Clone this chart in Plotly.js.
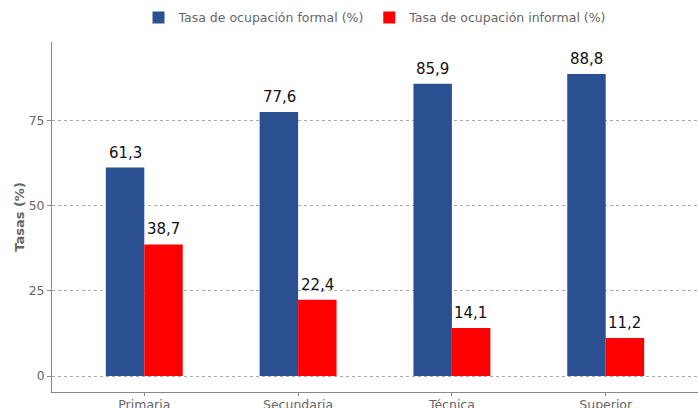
<!DOCTYPE html>
<html><head><meta charset="utf-8">
<script src="https://cdn.plot.ly/plotly-3.0.1.min.js"></script>
<style>html,body{margin:0;padding:0;background:#fff}#c{width:698px;height:408px}</style>
</head><body><div id="c"></div>
<script>
const categories = ["Primaria", "Secundaria", "Técnica", "Superior"];
const formal = [61.3, 77.6, 85.9, 88.8];
const informal = [38.7, 22.4, 14.1, 11.2];
const seriesNames = ["Tasa de ocupación formal (%)", "Tasa de ocupación informal (%)"];
const yTicks = [0, 25, 50, 75];

const font = "DejaVu Sans";
const traces = [
  {type:'bar', x:categories, y:formal, name:seriesNames[0], marker:{color:'#2a5092'}, offsetgroup:'a'},
  {type:'bar', x:categories, y:informal, name:seriesNames[1], marker:{color:'#ff0000'}, offsetgroup:'b'}
];
const fmt = v => v.toFixed(1).replace('.', ',');
const annotations = [];
categories.forEach((c, i) => {
  annotations.push({x:c, y:formal[i], xshift:-19, yshift:4, yanchor:'bottom', text:fmt(formal[i]),
    showarrow:false, font:{family:font, size:15, color:'#111'}});
  annotations.push({x:c, y:informal[i], xshift:19, yshift:4, yanchor:'bottom', text:fmt(informal[i]),
    showarrow:false, font:{family:font, size:15, color:'#111'}});
});
const layout = {
  width:698, height:408,
  margin:{l:52, r:0, t:42, b:16, autoexpand:false},
  separators:',.',
  font:{family:font, size:12.4, color:'#666'},
  barmode:'group', bargap:0.5, bargroupgap:0,
  paper_bgcolor:'#fff', plot_bgcolor:'#fff',
  showlegend:true,
  legend:{orientation:'h', x:0.5, xanchor:'center', y:1.069, yanchor:'middle',
          font:{family:font, size:12.5, color:'#666'}, itemwidth:30, tracegroupgap:0},
  annotations: annotations,
  xaxis:{range:[-0.6,3.6], showline:true, linecolor:'#888', linewidth:1, automargin:false,
         ticks:'outside', ticklen:3, tickcolor:'#888', showgrid:false, zeroline:false,
         ticklabelstandoff:-2,
         tickfont:{family:font, size:12.5, color:'#666'}},
  yaxis:{range:[-4.7,98.2], tickvals:yTicks, showline:true, linecolor:'#888', linewidth:1, automargin:false,
         ticks:'outside', ticklen:4, tickcolor:'#888',
         showgrid:true, gridcolor:'#aaa', griddash:'3px,3px', gridwidth:1, zeroline:false,
         tickfont:{family:font, size:12.4, color:'#666'},
         title:{text:'<b>Tasas (%)</b>', font:{family:font, size:13, color:'#666'}, standoff:1}}
};
Plotly.newPlot('c', traces, layout, {displayModeBar:false, staticPlot:true});
</script></body></html>
